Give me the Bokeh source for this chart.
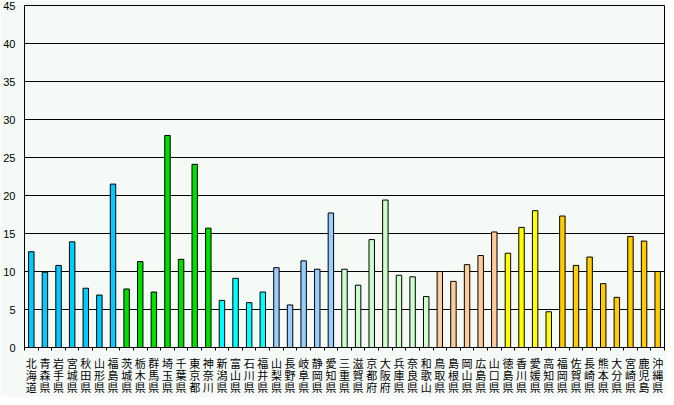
from bokeh.plotting import figure
from bokeh.models import ColumnDataSource, FixedTicker, Range1d
from bokeh.embed import file_html
from bokeh.resources import INLINE

prefectures = ["北海道", "青森県", "岩手県", "宮城県", "秋田県", "山形県", "福島県",
               "茨城県", "栃木県", "群馬県", "埼玉県", "千葉県", "東京都", "神奈川",
               "新潟県", "富山県", "石川県", "福井県",
               "山梨県", "長野県", "岐阜県", "静岡県", "愛知県",
               "三重県", "滋賀県", "京都府", "大阪府", "兵庫県", "奈良県", "和歌山",
               "鳥取県", "島根県", "岡山県", "広島県", "山口県",
               "徳島県", "香川県", "愛媛県", "高知県",
               "福岡県", "佐賀県", "長崎県", "熊本県", "大分県", "宮崎県", "鹿児島", "沖縄県"]
values = [12.6, 9.9, 10.8, 13.9, 7.8, 6.9, 21.5,
          7.7, 11.3, 7.3, 27.9, 11.6, 24.1, 15.7,
          6.2, 9.1, 5.9, 7.3,
          10.5, 5.6, 11.4, 10.3, 17.7,
          10.3, 8.2, 14.2, 19.4, 9.5, 9.3, 6.7,
          10.0, 8.7, 10.9, 12.1, 15.2,
          12.4, 15.8, 18.0, 4.7,
          17.3, 10.8, 11.9, 8.4, 6.6, 14.6, 14.0, 10.0]
region_colors = (["#00CCFF"] * 7 + ["#00E000"] * 7 + ["#00FFFF"] * 4 +
                 ["#99CCFF"] * 5 + ["#CCFFCC"] * 7 + ["#FFCC99"] * 5 +
                 ["#FFFF00"] * 4 + ["#FFCC00"] * 8)
y_ticks = list(range(0, 50, 5))

n = len(prefectures)
xs = [i + 0.5 for i in range(n)]
src = ColumnDataSource(dict(x=xs, top=values, color=region_colors))

bg = "#F5FAF6"
p = figure(width=666, height=397, output_backend="svg", toolbar_location=None,
           x_range=Range1d(0, n), y_range=Range1d(0, 45),
           background_fill_color=bg, border_fill_color=bg,
           min_border_left=0, min_border_right=2, min_border_top=5, min_border_bottom=0)
p.vbar(x="x", top="top", bottom=0, width=0.4, source=src, fill_color="color",
       line_color="black", line_width=1)

p.outline_line_color = "black"
p.outline_line_width = 1
p.xgrid.grid_line_color = None
p.ygrid.grid_line_color = "black"
p.ygrid.grid_line_width = 1
p.ygrid.ticker = FixedTicker(ticks=y_ticks)

p.yaxis.ticker = FixedTicker(ticks=y_ticks)
p.yaxis.major_tick_line_color = None
p.yaxis.minor_tick_line_color = None
p.yaxis.axis_line_color = "black"
p.yaxis.major_label_text_font = "Liberation Sans"
p.yaxis.major_label_text_font_size = "11px"
p.yaxis.major_label_text_color = "black"
p.yaxis.major_label_standoff = 3

p.xaxis.ticker = FixedTicker(ticks=xs, minor_ticks=list(range(n + 1)))
p.xaxis.major_label_overrides = {x: "\n".join(list(name)) for x, name in zip(xs, prefectures)}
p.xaxis.major_tick_line_color = None
p.xaxis.minor_tick_line_color = "black"
p.xaxis.minor_tick_out = 3
p.xaxis.minor_tick_in = 0
p.xaxis.axis_line_color = "black"
p.xaxis.major_label_text_font = "Noto Sans CJK JP"
p.xaxis.major_label_text_font_size = "11px"
p.xaxis.major_label_text_color = "black"
p.xaxis.major_label_text_line_height = 0.75
p.xaxis.major_label_standoff = 1

open("out.html", "w").write(file_html(p, INLINE))
